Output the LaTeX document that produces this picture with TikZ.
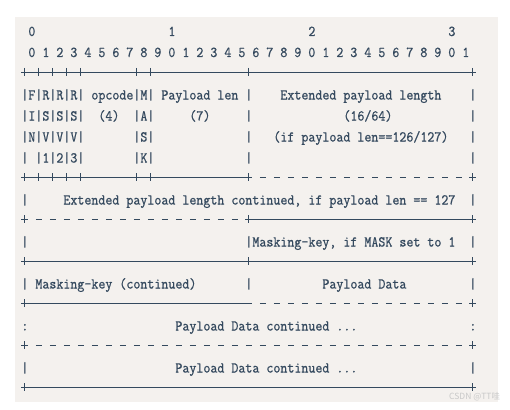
\documentclass[tikz,border=0pt]{standalone}
\usepackage{fontspec}
\newfontfamily\cjk{Noto Sans CJK SC}
\newfontfamily\asciimono{Latin Modern Mono}[FakeStretch=0.9062, FakeBold=0.8]
\definecolor{bg}{RGB}{244,241,238}
\definecolor{ink}{RGB}{52,73,94}
\definecolor{wm}{RGB}{200,200,200}
\newcount\gapn
\newcommand\gap[1]{\gapn=#1\relax\loop\ifnum\gapn>0 \ \advance\gapn-1\relax\repeat}
\newcommand\rowfont{\asciimono\fontsize{15}{18}\selectfont\frenchspacing}
\newcommand\bsolid[3]{\draw[rule] ({24.7+7*#1-3.4},#3) -- ({24.7+7*#2+3.4},#3);}
\newcommand\bplus[2]{\draw[rule] ({24.7+7*#1},#2-4) -- ({24.7+7*#1},#2+4) ({24.7+7*#1-3.4},#2) -- ({24.7+7*#1+3.4},#2);}
\newcommand\bdash[2]{\draw[rule] ({24.7+7*#1-2.8},#2) -- ({24.7+7*#1+2.8},#2);}
\tikzset{
  row/.style={anchor=base west, inner sep=0pt, font=\rowfont, text=ink},
  rule/.style={draw=ink, line width=0.8pt}
}
\begin{document}
\begin{tikzpicture}[x=1pt,y=-1pt]
\useasboundingbox (0,0) rectangle (510,409);
\fill[bg] (15,16.7) rectangle (497.7,401.7);
% text rows
\node[row] (r0) at (21.2,36) {~0\gap{19}1\gap{19}2\gap{19}3};
\node[row] (r1) at (21.2,57) {~0~1~2~3~4~5~6~7~8~9~0~1~2~3~4~5~6~7~8~9~0~1~2~3~4~5~6~7~8~9~0~1};
\node[row] (r3) at (21.2,99.5) {|F|R|R|R|~opcode|M|~Payload~len~|\gap{4}Extended~payload~length\gap{4}|};
\node[row] (r4) at (21.2,120.5) {|I|S|S|S|\gap{2}(4)\gap{2}|A|\gap{5}(7)\gap{5}|\gap{13}(16/64)\gap{11}|};
\node[row] (r5) at (21.2,141.5) {|N|V|V|V|\gap{7}|S|\gap{13}|\gap{3}(if~payload~len==126/127)\gap{3}|};
\node[row] (r6) at (21.2,162.5) {|~|1|2|3|\gap{7}|K|\gap{13}|\gap{31}|};
\node[row] (r8) at (21.2,204.5) {|\gap{5}Extended~payload~length~continued,~if~payload~len~==~127\gap{2}|};
\node[row] (r10) at (21.2,246.5) {|\gap{31}|Masking-key,~if~MASK~set~to~1\gap{2}|};
\node[row] (r12) at (21.2,288.5) {|~Masking-key~(continued)\gap{7}|\gap{10}Payload~Data\gap{9}|};
\node[row] (r14) at (21.2,330.5) {:\gap{21}Payload~Data~continued~...\gap{16}:};
\node[row] (r16) at (21.2,372.5) {|\gap{21}Payload~Data~continued~...\gap{16}|};
% border row 2
\bsolid{0}{64}{72}
\foreach \c in {0,2,4,6,8,16,18,32,64} {\bplus{\c}{72}}
% border row 7
\bsolid{0}{32}{177}
\foreach \c in {0,2,4,6,8,16,18,32,64} {\bplus{\c}{177}}
\foreach \c in {34,36,...,62} {\bdash{\c}{177}}
% border row 9
\foreach \c in {2,4,...,30} {\bdash{\c}{219}}
\bsolid{32}{64}{219}
\foreach \c in {0,32,64} {\bplus{\c}{219}}
% border row 11
\bsolid{0}{64}{261}
\foreach \c in {0,32,64} {\bplus{\c}{261}}
% border row 13
\bsolid{0}{32}{303}
\foreach \c in {34,36,...,62} {\bdash{\c}{303}}
\foreach \c in {0,64} {\bplus{\c}{303}}
% border row 15
\foreach \c in {2,4,...,62} {\bdash{\c}{345}}
\foreach \c in {0,64} {\bplus{\c}{345}}
% border row 17
\bsolid{0}{64}{387}
\foreach \c in {0,64} {\bplus{\c}{387}}
% watermark
\node[anchor=west, inner sep=0pt, text=wm, font=\cjk\fontsize{8.5}{10}\selectfont] (wm) at (449,397) {CSDN @TT哇};
\end{tikzpicture}
\end{document}
